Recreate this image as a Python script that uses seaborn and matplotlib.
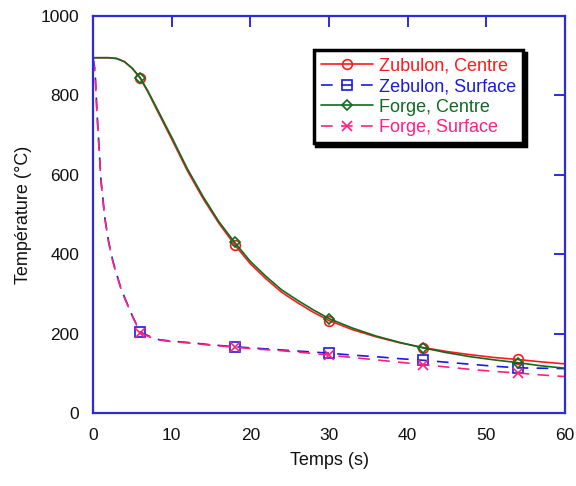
import numpy as np
import pandas as pd
import matplotlib
matplotlib.use('Agg')
import matplotlib.pyplot as plt
import seaborn as sns

# Données
t_centre = [0, 1, 2, 3, 4, 5, 6, 7, 8, 10, 12, 14, 16, 18, 20, 22, 24, 26, 28, 30,
            33, 36, 39, 42, 45, 48, 51, 54, 57, 60]
zubulon_centre = [895, 895, 895, 893, 885, 868, 843, 808, 768, 690, 610, 540, 478, 424, 376,
                  338, 304, 278, 254, 233, 210, 192, 177, 165, 155, 147, 140, 135, 129, 124]
forge_centre = [895, 895, 895, 893, 885, 868, 845, 810, 772, 695, 615, 545, 482, 430, 382,
                344, 310, 284, 260, 238, 214, 194, 178, 164, 152, 142, 134, 127, 119, 113]

t_surf = [0, 0.25, 0.5, 1, 1.5, 2, 2.5, 3, 3.5, 4, 5, 6, 8, 10, 12, 15, 18, 21, 24, 27, 30,
          33, 36, 39, 42, 45, 48, 51, 54, 57, 60]
zebulon_surface = [895, 865, 760, 590, 492, 430, 385, 350, 318, 292, 245, 204, 186, 181, 178,
                   172, 167, 163, 159, 155, 151, 146, 142, 137, 133, 128, 123, 118, 114, 113, 112]
forge_surface = [890, 860, 755, 585, 490, 428, 383, 348, 316, 290, 244, 202, 185, 180, 177,
                 171, 166, 161, 157, 152, 146, 140, 134, 128, 122, 116, 110, 105, 101, 96, 92]

mark_times = [6, 18, 30, 42, 54]

series = [
    ('Zubulon, Centre', t_centre, zubulon_centre, '#ff1a1a', 'o', '-'),
    ('Zebulon, Surface', t_surf, zebulon_surface, '#1a1ae6', 's', (0, (7, 5))),
    ('Forge, Centre', t_centre, forge_centre, '#0f6b1f', 'D', '-'),
    ('Forge, Surface', t_surf, forge_surface, '#ff2080', 'x', (0, (7, 5))),
]

sns.set_style('white')
plt.rcParams['font.family'] = ['Liberation Sans', 'DejaVu Sans']

fig = plt.figure(figsize=(5.76, 4.86), dpi=100)
ax = fig.add_axes([0.1615, 0.150, 0.8195, 0.817])

for name, t, y, col, mk, ls in series:
    df = pd.DataFrame({'Temps': t, 'Temp': y})
    idx = [t.index(m) for m in mark_times]
    ms = 5 if mk == 'D' else 7
    sns.lineplot(data=df, x='Temps', y='Temp', ax=ax, color=col, linestyle=ls,
                 linewidth=1.2, marker=mk, markevery=idx, markersize=ms,
                 markerfacecolor='none', markeredgecolor=col, markeredgewidth=1.2,
                 label=name)

ax.set_xlim(0, 60)
ax.set_ylim(0, 1000)
ax.set_xticks([0, 10, 20, 30, 40, 50, 60])
ax.set_yticks([0, 200, 400, 600, 800, 1000])
ax.set_xlabel('Temps (s)', fontsize=13, labelpad=6, color='#111111')
ax.set_ylabel('Température (°C)', fontsize=13, labelpad=6, color='#111111')

axis_col = '#2b2bdc'
for sp in ax.spines.values():
    sp.set_color(axis_col)
    sp.set_linewidth(1.6)
    sp.set_visible(True)
ax.tick_params(direction='in', length=8, width=1.4, color=axis_col,
               top=True, right=True, labelsize=12.5, labelcolor='#111111')
ax.tick_params(axis='x', pad=11)
ax.tick_params(axis='y', pad=10)

leg = ax.legend(loc='upper right', bbox_to_anchor=(0.911, 0.914), fontsize=13,
                frameon=True, fancybox=False, handlelength=2.9, handletextpad=0.3,
                borderpad=0.4, labelspacing=0.2, borderaxespad=0,
                shadow={'color': 'black', 'alpha': 1})
leg.get_frame().set_edgecolor('black')
leg.get_frame().set_linewidth(2.5)
leg.get_frame().set_alpha(1)
for txt, s in zip(leg.get_texts(), series):
    txt.set_color(s[3])

plt.savefig('out.png', dpi=100)
plt.close()
